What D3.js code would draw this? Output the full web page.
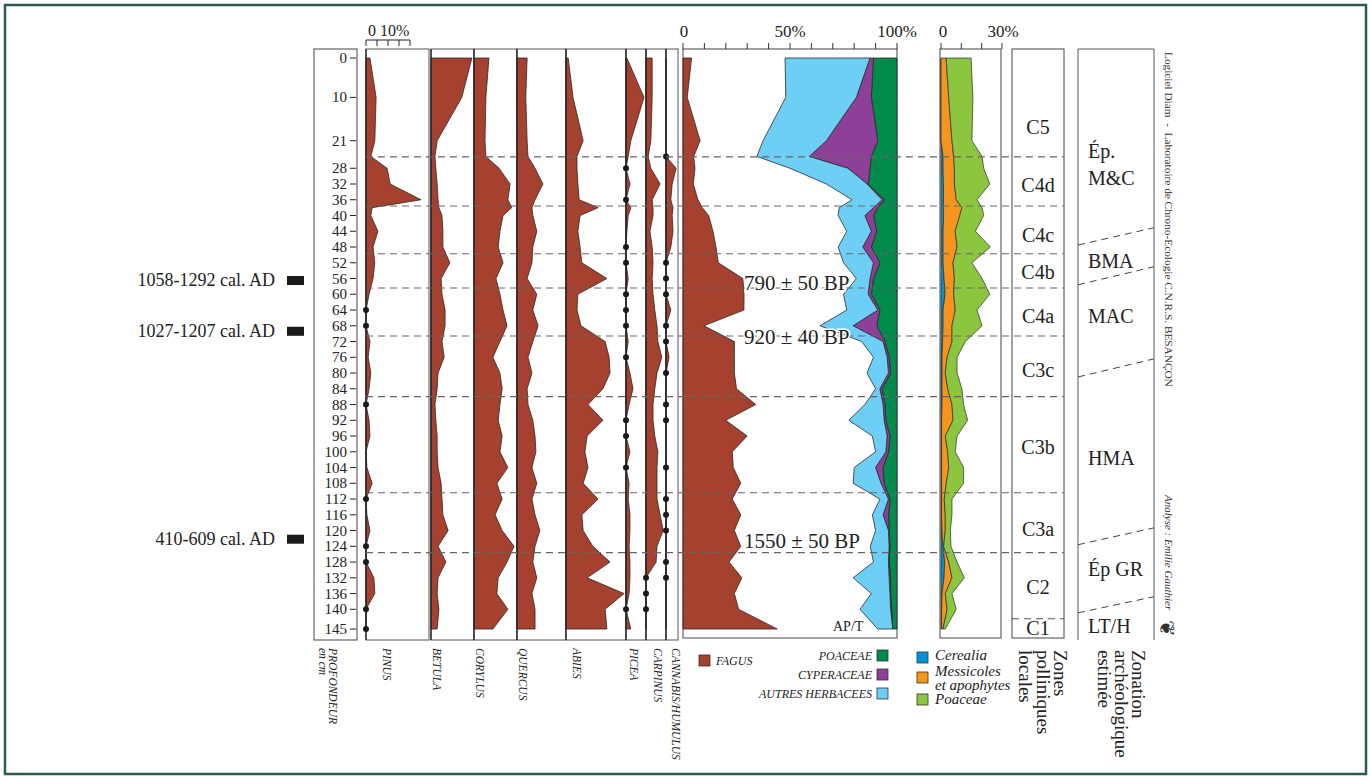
<!DOCTYPE html>
<html>
<head>
<meta charset="utf-8">
<title>Diagramme pollinique</title>
<script src="https://cdn.jsdelivr.net/npm/d3@7/dist/d3.min.js"></script>
<style>
  html, body { margin: 0; padding: 0; background: #fff; }
  svg { display: block; font-family: "Liberation Serif", "DejaVu Serif", serif; }
</style>
</head>
<body>
<svg width="1371" height="779"></svg>
<script>
// sample depths (cm) and the labels written on the depth axis
const depths = [0,10,21,25,28,32,36,38,40,44,48,52,56,60,64,68,72,76,80,84,88,92,96,100,104,108,112,116,120,124,128,132,136,140,145];
const depthTicks = [0,10,21,28,32,36,40,44,48,52,56,60,64,68,72,76,80,84,88,92,96,100,104,108,112,116,120,124,128,132,136,140,145];

// tree taxa (%)
const pinus    = [0.9,2.3,2.0,1.1,4.8,5.5,12.5,1.4,1.1,2.7,1.6,2.0,1.6,0.7,0,0,0.9,0.5,1.1,0.7,0,0.7,0.9,0,0.2,1.4,0,0.2,0.9,0,0,1.8,2.0,0,0];
const betula   = [9.3,7.0,1.4,0.9,1.1,1.4,1.6,1.8,2.5,2.7,2.7,4.3,2.3,2.5,3.2,3.2,2.5,3.0,1.6,1.4,0.9,1.1,1.4,1.4,1.6,2.3,2.5,2.7,3.9,1.6,3.4,1.6,1.4,1.8,1.4];
const corylus  = [3.4,2.7,2.5,2.7,5.7,8.2,7.7,8.6,6.6,5.9,5.5,6.6,5.0,5.9,6.6,7.5,5.9,4.3,5.9,6.4,5.9,5.5,6.4,5.9,7.7,5.2,6.4,4.8,6.4,9.1,7.5,5.5,5.2,7.7,4.3];
const quercus  = [2.3,2.0,2.3,2.5,4.1,5.9,4.1,3.4,3.6,4.5,3.6,3.4,2.3,4.5,3.6,4.8,3.6,2.5,3.4,2.3,2.5,3.6,4.1,4.3,3.4,4.5,3.4,4.1,5.2,4.1,3.6,4.5,3.4,4.1,4.1];
const abies    = [0.5,1.6,3.9,2.5,2.5,2.7,3.0,7.3,3.2,2.7,3.2,3.6,9.3,2.7,2.5,3.4,8.9,9.8,10.0,8.4,5.0,8.4,4.8,4.3,5.0,3.9,7.3,3.6,3.9,6.1,10.0,4.8,13.2,8.9,9.3];
const picea    = [0.2,4.1,1.1,0.5,0,0.9,0,1.1,0.5,0.2,0,0,0.5,0,0,0,0.5,0,0.9,1.6,0.7,0,0,0.9,0,0.7,0.5,0.9,0.9,0.7,0.9,0.9,0.7,0,1.1];
const carpinus = [1.4,1.4,1.1,0.5,1.1,3.2,1.4,1.6,1.6,0.9,1.4,1.6,1.4,1.6,2.0,2.5,2.7,3.6,2.5,2.0,1.6,1.6,2.0,2.7,2.5,2.5,2.5,3.2,3.9,2.5,2.3,0,0,0,0];
const cannabis = [0,0,0,0,2.3,1.4,1.1,1.6,1.4,1.6,1.1,0,0,0,1.1,0,0,0.7,0,0,0,0,0,0,0,0,0,0.2,0,0,0,0,0,0,0];

// depths where a taxon is only present (dot on the baseline)
const pinusDots    = [64,68,88,112,124,128,140,145];
const piceaDots    = [28,36,48,52,60,64,68,76,92,96,104,140];
const carpinusDots = [132,136,140];
const cannabisDots = [25,52,56,60,68,72,80,88,92,104,112,116,120,128,132];

// AP/T diagram (%)
const fagus      = [4,2,8,5,5.6,4.8,7,9,12,14,15.4,16.5,28,28.5,28.5,9.8,24,24,24,25,34,20,30,23,23.5,27,23,27,24,27,21.5,27.5,24,26,44];
const poaceaeNAP = [11,12,9,12,12.6,13.5,6,9,11,9.5,12,8,11,12,8,9.5,5.6,3.7,3,7,5.6,5.2,3.3,4,6.5,6,3.3,4,3.7,3.3,3.7,3,3,2.5,2];
const cyperaceae = [1.6,7,24,29,10.4,0.5,1,2,4,2.5,4,3,1.6,1.5,1,11,0.9,0.9,1,1,0.9,0.8,1.3,1.2,3.5,1.5,0.7,2.5,0.3,0.4,0.3,0.7,0.3,0.5,0];
const autresHerb = [39.7,33,29.6,24.5,27,19,14,16,12.5,11.5,11.5,14,6.4,11.5,14.5,15.5,10,6.4,10,2,8.5,16.5,6.9,4.8,10,13,4,5,6,8.8,7,16.8,8.7,14.3,7];

// anthropogenic indicators (%)
const cerealia   = [0,0,0,1,1,1.2,1.2,1.2,1.3,1,1,1,1.5,2,1,1,0.8,0.5,0.5,0.5,0.5,0.3,0.3,0.3,0.3,0.3,0.3,0.3,0.5,1,1.8,1.5,0.5,0.3,0.3];
const messicoles = [2.5,3.8,5.4,5.2,5.6,5.4,6.3,9.1,7.9,6,6.9,4.9,5.1,4.2,6,4.4,4.6,2.5,1.6,2.8,4.9,5.6,1.8,3,3.5,2.3,1.3,1.8,1.6,0.3,2,3.9,1.6,2.7,0.7];
const poaceae    = [12.3,11.9,9.8,14,14.4,17.4,10.2,9.9,11.8,9.9,16.4,9.3,13.6,17.8,10.7,14.8,6.6,4.9,5.8,7,5.7,7.2,5.8,3.7,7.3,8.5,3.8,3.3,2.5,3.6,4.1,6.1,3.3,4.5,1.1];

// local pollen zones
const zoneBounds = [25.1,37.6,49.7,58.4,70.6,86,110.4,125.6];
const zoneC1Bound = 142.4;
const zoneLabels = ['C5','C4d','C4c','C4b','C4a','C3c','C3b','C3a','C2','C1'];
const zoneLabelDepths = [17.5,32.2,44.9,54.3,65.5,79.2,98.7,119.5,134.3,144.7];

// archaeological zonation
const archLabels = ['Ép.','M&C','BMA','MAC','HMA','Ép GR','LT/H'];
const archLabelDepths = [25.4,32.2,53.3,67.3,103.3,131.5,145.9];
const archSlopes = [[47.5,43.1],[57.6,53],[81,76.4],[123.6,119.3],[140.9,136.8]];

// radiocarbon dates
const calDates = ['1058-1292 cal. AD','1027-1207 cal. AD','410-609 cal. AD'];
const calDepths = [56.5,69.4,122.2];
const bpDates = ['790 ± 50 BP','920 ± 40 BP','1550 ± 50 BP'];
const bpDepths = [57.1,70.8,122.6];

const colors = {
  tree: '#a6402f', poaceaeNAP: '#008a4c', cyperaceae: '#8e3f98', autres: '#6dcff6',
  cerealia: '#0095d9', messicoles: '#f7941d', poaceae: '#8cc63f', frame: '#2b5c4a'
};

const svg = d3.select('svg');
const panelTop = 49, panelBottom = 640;
const y = d3.scaleLinear().domain([0, 145]).range([58, 629]);
const rows = depths.map((d, i) => ({ d, i }));

// outer frame
svg.append('rect').attr('x', 5).attr('y', 5).attr('width', 1361).attr('height', 769)
  .attr('fill', 'none').attr('stroke', colors.frame).attr('stroke-width', 2.5);

// depth axis
const axisG = svg.append('g');
axisG.append('rect').attr('x', 314).attr('y', panelTop).attr('width', 43).attr('height', panelBottom - panelTop)
  .attr('fill', 'none').attr('stroke', '#444').attr('stroke-width', 1);
axisG.selectAll('line.tick').data(depthTicks).enter().append('line')
  .attr('x1', 350).attr('x2', 356).attr('y1', d => y(d)).attr('y2', d => y(d))
  .attr('stroke', '#222').attr('stroke-width', 1);
axisG.selectAll('text').data(depthTicks).enter().append('text')
  .attr('x', 347).attr('y', d => y(d) + 5).attr('text-anchor', 'end')
  .attr('font-size', 15).attr('fill', '#222').text(d => d);

// tree taxa panels
const pct = d3.scaleLinear().domain([0, 10]).range([0, 44]);
const leftTaxa = [
  { name: 'PINUS', values: pinus, dots: pinusDots, x0: 366, x1: 429, lx: 383 },
  { name: 'BETULA', values: betula, dots: [], x0: 431, x1: 474, lx: 433 },
  { name: 'CORYLUS', values: corylus, dots: [], x0: 474, x1: 517, lx: 476 },
  { name: 'QUERCUS', values: quercus, dots: [], x0: 517, x1: 566, lx: 519 },
  { name: 'ABIES', values: abies, dots: [], x0: 566, x1: 626, lx: 573 },
  { name: 'PICEA', values: picea, dots: piceaDots, x0: 626, x1: 646, lx: 630 },
  { name: 'CARPINUS', values: carpinus, dots: carpinusDots, x0: 646, x1: 666, lx: 654 },
  { name: 'CANNABIS/HUMULUS', values: cannabis, dots: cannabisDots, x0: 666, x1: 678, lx: 672 }
];

leftTaxa.forEach(t => {
  const g = svg.append('g');
  g.append('rect').attr('x', t.x0).attr('y', panelTop).attr('width', t.x1 - t.x0)
    .attr('height', panelBottom - panelTop).attr('fill', '#fff').attr('stroke', '#555').attr('stroke-width', 1);
  const area = d3.area().y(r => y(r.d)).x0(t.x0).x1(r => t.x0 + pct(t.values[r.i]));
  g.append('path').datum(rows).attr('d', area)
    .attr('fill', colors.tree).attr('stroke', '#2a2a2a').attr('stroke-width', 0.8);
  g.append('line').attr('x1', t.x0).attr('x2', t.x0).attr('y1', panelTop).attr('y2', panelBottom)
    .attr('stroke', '#222').attr('stroke-width', 1.3);
  g.selectAll('circle').data(t.dots).enter().append('circle')
    .attr('cx', t.x0).attr('cy', d => y(d)).attr('r', 3).attr('fill', '#1a1a1a');
  g.append('text').attr('transform', `translate(${t.lx},648) rotate(90)`)
    .attr('font-size', 11.5).attr('font-style', 'italic').attr('fill', '#222').text(t.name);
});

// Pinus scale bracket
const pinusScale = svg.append('g');
pinusScale.append('line').attr('x1', 366).attr('x2', 410).attr('y1', 40).attr('y2', 40).attr('stroke', '#222');
d3.range(0, 5).forEach(k => {
  pinusScale.append('line').attr('x1', 366 + k * 11).attr('x2', 366 + k * 11)
    .attr('y1', 40).attr('y2', 46).attr('stroke', '#222');
});
pinusScale.append('text').attr('x', 368).attr('y', 36).attr('font-size', 16).attr('fill', '#222').text('0');
pinusScale.append('text').attr('x', 380).attr('y', 36).attr('font-size', 16).attr('fill', '#222').text('10%');

// PROFONDEUR label
svg.append('text').attr('transform', 'translate(329,648) rotate(90)')
  .attr('font-size', 11.5).attr('font-style', 'italic').attr('fill', '#222').text('PROFONDEUR');
svg.append('text').attr('transform', 'translate(319,648) rotate(90)')
  .attr('font-size', 11.5).attr('font-style', 'italic').attr('fill', '#222').text('en cm');

// AP/T panel
const xMain = d3.scaleLinear().domain([0, 100]).range([683, 897]);
const mainG = svg.append('g');
mainG.append('rect').attr('x', 683).attr('y', panelTop).attr('width', 214).attr('height', 589)
  .attr('fill', '#fff').attr('stroke', '#444').attr('stroke-width', 1);
mainG.append('path').datum(rows)
  .attr('d', d3.area().y(r => y(r.d)).x0(xMain(0)).x1(r => xMain(fagus[r.i])))
  .attr('fill', colors.tree).attr('stroke', '#2a2a2a').attr('stroke-width', 0.8);

const napTable = depths.map((d, i) => ({ d, poa: poaceaeNAP[i], cyp: cyperaceae[i], aut: autresHerb[i] }));
const napStack = d3.stack().keys(['poa', 'cyp', 'aut'])(napTable);
const napColors = { poa: colors.poaceaeNAP, cyp: colors.cyperaceae, aut: colors.autres };
mainG.selectAll('path.nap').data(napStack).enter().append('path')
  .attr('d', layer => d3.area().y(p => y(p.data.d)).x0(p => xMain(100 - p[0])).x1(p => xMain(100 - p[1]))(layer))
  .attr('fill', layer => napColors[layer.key]).attr('stroke', '#2a2a2a').attr('stroke-width', 0.8);

mainG.selectAll('line.mtick').data(d3.range(0, 101, 10)).enter().append('line')
  .attr('x1', d => xMain(d)).attr('x2', d => xMain(d)).attr('y1', 43).attr('y2', panelTop).attr('stroke', '#333');
mainG.selectAll('text.mlab').data([0, 50, 100]).enter().append('text')
  .attr('x', d => xMain(d) + (d === 0 ? 1 : 0)).attr('y', 37).attr('text-anchor', 'middle')
  .attr('font-size', 17).attr('fill', '#222').text(d => d === 0 ? '0' : d + '%');
mainG.append('text').attr('x', 833).attr('y', 631).attr('font-size', 14).attr('fill', '#222').text('AP/T');

// anthropogenic indicators panel
const xRight = d3.scaleLinear().domain([0, 30]).range([941, 1002]);
const rightG = svg.append('g');
rightG.append('rect').attr('x', 940).attr('y', panelTop).attr('width', 61).attr('height', 589)
  .attr('fill', '#fff').attr('stroke', '#444').attr('stroke-width', 1);
const indTable = depths.map((d, i) => ({ d, cer: cerealia[i], mes: messicoles[i], poa: poaceae[i] }));
const indStack = d3.stack().keys(['cer', 'mes', 'poa'])(indTable);
const indColors = { cer: colors.cerealia, mes: colors.messicoles, poa: colors.poaceae };
rightG.selectAll('path.ind').data(indStack).enter().append('path')
  .attr('d', layer => d3.area().y(p => y(p.data.d)).x0(p => xRight(p[0])).x1(p => xRight(p[1]))(layer))
  .attr('fill', layer => indColors[layer.key]).attr('stroke', '#2a2a2a').attr('stroke-width', 0.7);
rightG.selectAll('line.rtick').data([0, 10, 20, 30]).enter().append('line')
  .attr('x1', d => xRight(d)).attr('x2', d => xRight(d)).attr('y1', 43).attr('y2', panelTop).attr('stroke', '#333');
rightG.append('text').attr('x', 943).attr('y', 37).attr('text-anchor', 'middle').attr('font-size', 17).attr('fill', '#222').text('0');
rightG.append('text').attr('x', 1003).attr('y', 37).attr('text-anchor', 'middle').attr('font-size', 17).attr('fill', '#222').text('30%');

// pollen zones column
const zoneG = svg.append('g');
zoneG.append('rect').attr('x', 1012).attr('y', panelTop).attr('width', 52).attr('height', 589)
  .attr('fill', '#fff').attr('stroke', '#444').attr('stroke-width', 1);
zoneG.selectAll('text').data(zoneLabels).enter().append('text')
  .attr('x', 1038).attr('y', (d, i) => y(zoneLabelDepths[i]) + 7).attr('text-anchor', 'middle')
  .attr('font-size', 20).attr('fill', '#222').text(d => d);
zoneG.append('line').attr('x1', 1012).attr('x2', 1064).attr('y1', y(zoneC1Bound)).attr('y2', y(zoneC1Bound))
  .attr('stroke', '#555').attr('stroke-dasharray', '7,5');

// archaeological zonation column
const archG = svg.append('g');
archG.append('path').attr('d', `M1078,640V${panelTop}H1154V640`).attr('fill', 'none').attr('stroke', '#555').attr('stroke-width', 1);
archG.selectAll('line').data(archSlopes).enter().append('line')
  .attr('x1', 1078).attr('x2', 1154).attr('y1', d => y(d[0])).attr('y2', d => y(d[1]))
  .attr('stroke', '#444').attr('stroke-dasharray', '7,5');
archG.selectAll('text').data(archLabels).enter().append('text')
  .attr('x', 1088).attr('y', (d, i) => y(archLabelDepths[i])).attr('font-size', 20).attr('fill', '#222').text(d => d);

// zone boundary dashed lines across the diagram
svg.append('g').selectAll('line').data(zoneBounds).enter().append('line')
  .attr('x1', 366).attr('x2', 1064).attr('y1', d => y(d)).attr('y2', d => y(d))
  .attr('stroke', '#666').attr('stroke-width', 1.1).attr('stroke-dasharray', '7,5');

// radiocarbon dates
const dateG = svg.append('g');
dateG.selectAll('text').data(calDates).enter().append('text')
  .attr('x', 275).attr('y', (d, i) => y(calDepths[i]) + 6).attr('text-anchor', 'end')
  .attr('font-size', 18).attr('fill', '#222').text(d => d);
dateG.selectAll('rect').data(calDepths).enter().append('rect')
  .attr('x', 287).attr('y', d => y(d) - 4.5).attr('width', 17).attr('height', 9).attr('fill', '#1a1a1a');
svg.append('g').selectAll('text').data(bpDates).enter().append('text')
  .attr('x', 744).attr('y', (d, i) => y(bpDepths[i]) + 7)
  .attr('font-size', 21).attr('fill', '#222')
  .attr('stroke', '#fff').attr('stroke-width', 3).attr('paint-order', 'stroke').text(d => d);

// legends
const legG = svg.append('g').attr('font-style', 'italic').attr('fill', '#222');
const sq = (x, yy, c) => legG.append('rect').attr('x', x).attr('y', yy).attr('width', 11).attr('height', 11)
  .attr('fill', c).attr('stroke', '#333').attr('stroke-width', 0.8);
sq(699, 655, colors.tree);
legG.append('text').attr('x', 716).attr('y', 665).attr('font-size', 12).text('FAGUS');
[['POACEAE', colors.poaceaeNAP, 650], ['CYPERACEAE', colors.cyperaceae, 669], ['AUTRES HERBACEES', colors.autres, 688]]
  .forEach(([lab, c, yy]) => {
    sq(877, yy, c);
    legG.append('text').attr('x', 872).attr('y', yy + 10).attr('text-anchor', 'end').attr('font-size', 12).text(lab);
  });
sq(917, 652, colors.cerealia);
legG.append('text').attr('x', 935).attr('y', 660).attr('font-size', 15).text('Cerealia');
sq(917, 672, colors.messicoles);
legG.append('text').attr('x', 935).attr('y', 676).attr('font-size', 15).text('Messicoles');
legG.append('text').attr('x', 935).attr('y', 690).attr('font-size', 15).text('et apophytes');
sq(917, 694, colors.poaceae);
legG.append('text').attr('x', 935).attr('y', 704).attr('font-size', 15).text('Poaceae');

// column titles
const vtext = (x, yy, s, size) => svg.append('text').attr('transform', `translate(${x},${yy}) rotate(90)`)
  .attr('font-size', size).attr('fill', '#222').text(s);
vtext(1054, 650, 'Zones', 19);
vtext(1037, 650, 'polliniques', 19);
vtext(1019, 650, 'locales', 19);
vtext(1132, 650, 'Zonation', 19);
vtext(1115, 650, 'archéologique', 19);
vtext(1098, 650, 'estimée', 19);

// credits
svg.append('text').attr('transform', 'translate(1165,52) rotate(90)').attr('font-size', 11.3)
  .attr('fill', '#333').style('white-space', 'pre').text('Logiciel Diam  -  Laboratoire de Chrono-Ecologie C.N.R.S. BESANÇON');
svg.append('text').attr('transform', 'translate(1165,495) rotate(90)').attr('font-size', 11)
  .attr('font-style', 'italic').attr('fill', '#333').text('Analyse : Emilie Gauthier');
svg.append('text').attr('transform', 'translate(1160,620) rotate(90)').attr('font-size', 20)
  .attr('font-family', 'DejaVu Sans').attr('fill', '#333').text('❦');
</script>
</body>
</html>
